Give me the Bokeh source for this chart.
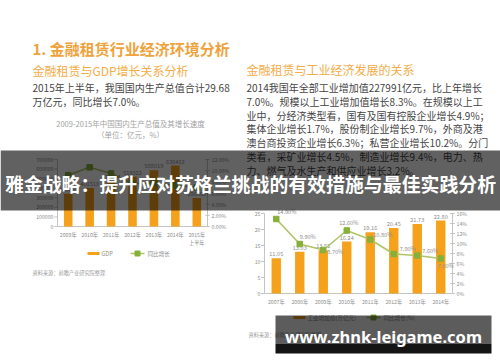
from bokeh.plotting import figure
from bokeh.models import Range1d
from bokeh.core.properties import value
from bokeh.embed import file_html
from bokeh.resources import INLINE

# ---------------- data ----------------
gdp_years = ["2009年", "2010年", "2011年", "2012年", "2013年", "2014年", "2015年\n上半年"]
gdp_values = [340903, 401513, 473104, 519322, 588019, 636463, 296868]
gdp_growth = [9.2, 10.6, 9.5, 7.7, 7.7, 7.4, 7.0]
gdp_yticks = [0, 100000, 200000, 300000, 400000, 500000, 600000, 700000]
gdp_rticks = [0, 2, 4, 6, 8, 10, 12]

ind_years = ["2007年", "2008年", "2009年", "2010年", "2011年", "2012年", "2013年", "2014年"]
ind_values = [11.05, 13.03, 13.52, 16.24, 19.16, 20.45, 21.73, 22.80]
ind_growth = [14.90, 9.90, 8.70, 12.60, 10.80, 7.90, 7.60, 7.00]
ind_yticks = [0, 5, 10, 15, 20, 25]
ind_rticks = [0, 2, 4, 6, 8, 10, 12, 14, 16]

title_main = "1. 金融租赁行业经济环境分析"
sub_left = "金融租赁与GDP增长关系分析"
sub_right = "金融租赁与工业经济发展的关系"
para_left = ["2015年上半年，我国国内生产总值合计29.68", "万亿元，同比增长7.0%。"]
para_right = [
    "2014我国年全部工业增加值227991亿元，比上年增长",
    "7.0%。规模以上工业增加值增长8.3%。在规模以上工",
    "业中，分经济类型看，国有及国有控股企业增长4.9%；",
    "集体企业增长1.7%，股份制企业增长9.7%，外商及港",
    "澳台商投资企业增长6.3%；私营企业增长10.2%。分门",
    "类看，采矿业增长4.5%，制造业增长9.4%，电力、热",
    "力、燃气及水生产和供应业增长3.2%。",
]
chart_title_left = ["2009-2015年中国国内生产总值及其增长速度", "（单位：亿元，%）"]
legend_left = ["GDP", "同比增长"]
legend_right = ["工业增加值(万亿元)", "同比增长(%)"]
source_text = "资料来源：前瞻产业研究院整理"
source_text_r = "资料来源：前瞻产业研究院整理"
banner_text = "雅金战略：提升应对苏格兰挑战的有效措施与最佳实践分析"
watermark_text = "www.zhnk-leigame.com"

# ---------------- style ----------------
CJK = "Noto Sans CJK SC"
ORANGE = "#F6A11C"
LINE_G = "#AFC465"
MARK_G = "#86B03A"
AXIS_C = "#C4C4C4"
LAB_C = "#8E8E8E"
TITLE_C = "#F0A23A"
SUB_C = "#F3AD48"
BODY_C = "#444444"

p = figure(width=500, height=362, x_range=Range1d(0, 500), y_range=Range1d(362, 0),
           output_backend="svg", toolbar_location=None, min_border=0,
           x_axis_location=None, y_axis_location=None, outline_line_color=None,
           background_fill_color="white", border_fill_color="white")
p.grid.visible = False


def txt(g, x, y, s, size, color, bold=False, align="left", baseline="middle",
        font=CJK, **kw):
    xs = x if isinstance(x, list) else [x]
    ys = y if isinstance(y, list) else [y]
    ss = s if isinstance(s, list) else [s]
    return g.text(x=xs, y=ys, text=ss, text_font=value(font),
                  text_font_size=value(f"{size}px"), text_color=color,
                  text_font_style="bold" if bold else "normal",
                  text_align=align, text_baseline=baseline, **kw)


# ---------------- slide texts ----------------
txt(p, 32, 47.5, title_main, 15, TITLE_C, bold=True)
txt(p, 32, 70, sub_left, 12, SUB_C)
txt(p, 246, 69, sub_right, 12, SUB_C)
for i, line in enumerate(para_left):
    txt(p, 32, 87 + i * 13.8, line, 10, BODY_C)
for i, line in enumerate(para_right):
    txt(p, 246, 87 + i * 13.8, line, 10, BODY_C)
txt(p, 130, 123, chart_title_left[0], 7.5, "#A2A2A2", align="center")
txt(p, 130, 133.5, chart_title_left[1], 7.5, "#A2A2A2", align="center")


# ---------------- chart helper ----------------
def combo_chart(cats, bars, growth, yticks, rticks, xt, yt, rfmt, bar_w,
                bar_lab_fmt):
    n = len(cats)
    xs = list(range(n))
    xsrc = (-0.5, n - 0.5)
    B = p.subplot(x_source=Range1d(*xsrc), y_source=Range1d(yticks[0], yticks[-1]),
                  x_target=Range1d(*xt), y_target=Range1d(*yt))
    G = p.subplot(x_source=Range1d(*xsrc), y_source=Range1d(rticks[0], rticks[-1]),
                  x_target=Range1d(*xt), y_target=Range1d(*yt))
    # axes
    B.segment(x0=[xsrc[0], xsrc[1], xsrc[0]], y0=[yticks[0]] * 3,
              x1=[xsrc[0], xsrc[1], xsrc[1]], y1=[yticks[-1], yticks[-1], yticks[0]],
              line_color=AXIS_C, line_width=1)
    B.segment(x0=[xsrc[0] - 0.15] * len(yticks), y0=yticks,
              x1=[xsrc[0]] * len(yticks), y1=yticks, line_color=AXIS_C)
    G.segment(x0=[xsrc[1] - 0.1] * len(rticks), y0=rticks,
              x1=[xsrc[1] + 0.1] * len(rticks), y1=rticks, line_color=AXIS_C)
    txt(B, [xsrc[0]] * len(yticks), yticks, [str(v) for v in yticks], 5.2, LAB_C,
        align="right", x_offset=-4)
    txt(G, [xsrc[1]] * len(rticks), rticks, [rfmt(v) for v in rticks], 5.2, LAB_C,
        align="left", x_offset=4)
    txt(B, xs, [yticks[0]] * n, cats, 5.2, LAB_C, align="center",
        baseline="top", y_offset=4)
    # bars, line
    B.vbar(x=xs, top=bars, bottom=yticks[0], width=bar_w, fill_color=ORANGE,
           line_color=None)
    txt(B, xs, bars, [bar_lab_fmt(v) for v in bars], 5.6, LAB_C, align="center",
        baseline="bottom", y_offset=-2)
    G.line(x=xs, y=growth, line_color=LINE_G, line_width=1.6)
    G.scatter(x=xs, y=growth, marker="square", size=5.5, fill_color=MARK_G,
              line_color=MARK_G)
    return B, G, xs


# left chart: GDP
BL, GL, xl = combo_chart(gdp_years, gdp_values, gdp_growth, gdp_yticks, gdp_rticks,
                         (57, 207), (226, 159), lambda v: f"{v:.2f}%", 0.4,
                         lambda v: str(v))

# right chart: industry
BR, GR, xr = combo_chart(ind_years, ind_values, ind_growth, ind_yticks, ind_rticks,
                         (264, 452), (293, 213), lambda v: f"{v}%", 0.4,
                         lambda v: f"{v:.2f}")
txt(GR, xr, ind_growth, [f"{v:.2f}%" for v in ind_growth], 5.6, LAB_C,
    align=["left", "left", "left", "center", "left", "left", "left", "left"],
    x_offset=[1, 0, 4, 2, 3, 6, 5, -3], y_offset=[-7, -7, 2, -8, -5, -5, -5, 7])

# legends
p.quad(left=[87], right=[99], top=[251.5], bottom=[254.5], fill_color=ORANGE, line_color=None)
txt(p, 101, 253, legend_left[0], 5.6, LAB_C)
p.segment(x0=[130], y0=[253], x1=[144], y1=[253], line_color=LINE_G, line_width=1.6)
p.scatter(x=[137], y=[253], marker="square", size=5, fill_color=MARK_G, line_color=MARK_G)
txt(p, 147, 253, legend_left[1], 5.6, LAB_C)
txt(p, 32, 272, source_text, 5.2, "#9A9A9A")

p.quad(left=[293], right=[305], top=[315.5], bottom=[318.5], fill_color=ORANGE, line_color=None)
txt(p, 307, 317, legend_right[0], 5.6, LAB_C)
p.segment(x0=[366], y0=[317], x1=[380], y1=[317], line_color=LINE_G, line_width=1.6)
p.scatter(x=[373], y=[317], marker="square", size=5, fill_color=MARK_G, line_color=MARK_G)
txt(p, 383, 317, legend_right[1], 5.6, LAB_C)
txt(p, 248, 334, source_text_r, 5.2, "#9A9A9A")

# ---------------- overlays ----------------
p.quad(left=[0], right=[500], top=[150], bottom=[210], fill_color="black",
       fill_alpha=0.62, line_color=None)
txt(p, 250, 182.5, banner_text, 18.9, "white", bold=True, align="center")

p.quad(left=[275], right=[491], top=[315], bottom=[343], fill_color="black",
       fill_alpha=0.64, line_color=None)
p.quad(left=[275], right=[491], top=[343], bottom=[353], fill_color="#0c0c0c",
       fill_alpha=0.97, line_color=None)
txt(p, 383, 335.5, watermark_text, 16.5, "white", bold=True, align="center",
    font="Noto Sans")

open("out.html", "w").write(file_html(p, INLINE))
